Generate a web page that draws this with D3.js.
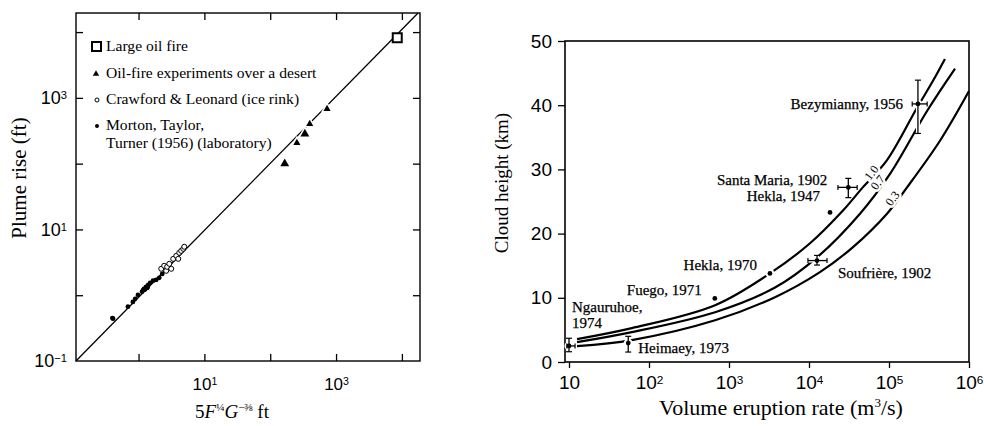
<!DOCTYPE html>
<meta charset="utf-8">
<style>
body { margin: 0; background: #fff; }
svg { font-family: "Liberation Serif", "DejaVu Serif", serif; }
.frame { fill: none; stroke: #000; stroke-width: 1.4px; }
.axis path { display: none; }
.axis line { stroke: #000; stroke-width: 1.3px; }
.axis text { fill: #000; }
.curve { fill: none; stroke: #000; stroke-width: 2.2px; }
.halo { fill: none; stroke: #fff; stroke-linejoin: round; }
.lbl { font-size: 15px; fill: #000; stroke: #000; stroke-width: 0.25px; }
</style>
<svg width="984" height="426"></svg>
<script src="https://d3js.org/d3.v7.min.js"></script>
<script>

// ---- left panel: plume rise vs 5 F^1/4 G^-3/8 ----
var oilFireX = [8500], oilFireY = [8200];
var desertX = [166, 254, 336, 398, 730];
var desertY = [100, 207, 284, 403, 681];
var iceX = [2.21, 2.45, 2.63, 2.72, 2.93, 3.14, 3.36, 3.74, 4.01, 4.15, 4.45, 4.78, 4.95];
var iceY = [2.52, 2.80, 2.35, 2.70, 3.00, 2.52, 3.57, 3.97, 3.57, 4.41, 4.73, 5.07, 5.45];
var labX = [0.40, 0.41, 0.69, 0.82, 0.89, 0.98, 1.13, 1.18, 1.21, 1.25, 1.30, 1.35, 1.38, 1.40, 1.50, 1.66, 1.85, 2.06, 2.29];
var labY = [0.45, 0.44, 0.67, 0.79, 0.88, 1.01, 1.13, 1.20, 1.25, 1.22, 1.34, 1.29, 1.33, 1.44, 1.54, 1.66, 1.71, 1.84, 2.11];
var fitX = [0.112, 17600], fitY = [0.1, 19500];
var leftXTicks = [1, 10, 100, 1000, 10000], leftXLabels = [10, 1000];
var leftYTicks = [0.1, 1, 10, 100, 1000, 10000], leftYLabels = [0.1, 10, 1000];
var legendText = ["Large oil fire", "Oil-fire experiments over a desert", "Crawford & Leonard (ice rink)", "Morton, Taylor,", "Turner (1956) (laboratory)"];

// ---- right panel: cloud height vs volume eruption rate ----
var volcano = ["Ngauruhoe", "Heimaey, 1973", "Fuego, 1971", "Hekla, 1970", "Soufrière, 1902", "Hekla, 1947", "Santa Maria, 1902", "Bezymianny, 1956"];
var rate =   [10,   55,   665, 3250, 12600, 18300, 31000, 230000];
var height = [2.5,  2.95, 9.9, 13.8, 15.8,  23.3,  27.2,  40.2];
var rateLo = [9.4,  null, null, null, 9700,  null, 23000, 195000];
var rateHi = [11.9, null, null, null, 16800, null, 40000, 300000];
var hLo =    [1.6,  1.55, null, null, 15.1,  null, 25.6,  35.6];
var hHi =    [3.7,  4.0,  null, null, 16.6,  null, 28.6,  43.9];
var curveNames = ["1.0", "0.7", "0.3"];
var curveQ = [
  [12.6, 61, 670, 3250, 10300, 26600, 47000, 94000, 224000, 355000, 500000],
  [12.6, 61, 670, 3760, 12600, 43400, 103000, 299000, 669000],
  [12.6, 61, 670, 3760, 13700, 35500, 94400, 168000, 436000, 1000000]
];
var curveH = [
  [3.57, 5.28, 8.85, 13.8, 18.5, 23.6, 27.2, 31.4, 39.6, 43.8, 47.2],
  [3.1, 4.66, 7.76, 11.6, 16.3, 23.1, 29.3, 39.1, 45.7],
  [2.48, 3.42, 6.5, 10.1, 14.0, 17.9, 23.1, 27.2, 34.5, 42.2]
];
var curveLabelQ = [60000, 72000, 110000], curveLabelH = [29.5, 28.0, 25.5];
var rightXTicks = [10, 100, 1000, 10000, 100000, 1000000];
var rightYTicks = [0, 10, 20, 30, 40, 50];

// label placement, in pixels from each point
var labelDx = [3, 10, -13, -13, 21, -10, -21, -15];
var labelDy = [-34, 10, -3, -3, 17, -11, -2, 5];
var labelAnchor = ["start", "start", "end", "end", "start", "end", "end", "end"];

var svg = d3.select("svg");

function superTen(sel, show, dropOne) {
  sel.each(function(d) {
    var t = d3.select(this).text("");
    if (!show(d)) return;
    var e = Math.round(Math.log10(d));
    t.append("tspan").text("10");
    if (dropOne && e == 1) return;
    t.append("tspan").attr("dy", "-0.45em").attr("font-size", "0.62em")
      .text(e < 0 ? "\u2212" + (-e) : e);
  });
}

// ================= left panel =================
var x1 = d3.scaleLog().domain([Math.pow(10, -0.95), Math.pow(10, 4.275)]).range([76, 420]);
var y1 = d3.scaleLog().domain([0.1, Math.pow(10, 4.29)]).range([361, 13]);
var L = svg.append("g");

L.append("g").attr("class", "axis").attr("transform", "translate(0,361)")
  .call(d3.axisBottom(x1).tickValues(leftXTicks).tickSize(-7).tickPadding(17))
  .selectAll("text").style("font-size", "17px")
  .call(superTen, function(d) { return leftXLabels.indexOf(d) >= 0; }, false);
L.append("g").attr("class", "axis").attr("transform", "translate(0,13)")
  .call(d3.axisTop(x1).tickValues(leftXTicks).tickSize(-7).tickFormat(""));
L.append("g").attr("class", "axis").attr("transform", "translate(76,0)")
  .call(d3.axisLeft(y1).tickValues(leftYTicks.slice(1)).tickSize(-7).tickFormat(""));
L.append("g").attr("class", "axis").attr("transform", "translate(76,0)")
  .call(d3.axisLeft(y1).tickValues(leftYLabels).tickSize(0).tickPadding(9))
  .selectAll("text").style("font-size", "18px")
  .call(superTen, function(d) { return true; }, false);
L.append("g").attr("class", "axis").attr("transform", "translate(420,0)")
  .call(d3.axisRight(y1).tickValues(leftYTicks.slice(1)).tickSize(-7).tickFormat(""));
L.append("rect").attr("class", "frame").attr("x", 76).attr("y", 13).attr("width", 344).attr("height", 348);

L.append("path").attr("fill", "none").attr("stroke", "#000").attr("stroke-width", 1.3)
  .attr("d", d3.line()(fitX.map(function(v, i) { return [x1(v), y1(fitY[i])]; })));

var tri = d3.symbol().type(d3.symbolTriangle);
desertX.forEach(function(v, i) {
  var s = (i == 0 || i == 2) ? 34 : 22;
  L.append("path").attr("d", tri.size(s)())
    .attr("transform", "translate(" + x1(v) + "," + y1(desertY[i]) + ")")
    .attr("fill", "#000").attr("stroke", "#fff").attr("stroke-width", 3).attr("paint-order", "stroke");
});
oilFireX.forEach(function(v, i) {
  L.append("rect").attr("x", x1(v) - 4.5).attr("y", y1(oilFireY[i]) - 4.5)
    .attr("width", 9).attr("height", 9).attr("fill", "#fff").attr("stroke", "#000").attr("stroke-width", 2);
});
labX.forEach(function(v, i) {
  L.append("circle").attr("cx", x1(v)).attr("cy", y1(labY[i])).attr("r", 2.4).attr("fill", "#000");
});
iceX.forEach(function(v, i) {
  L.append("circle").attr("cx", x1(v)).attr("cy", y1(iceY[i])).attr("r", 2.5)
    .attr("fill", "#fff").attr("stroke", "#000").attr("stroke-width", 1);
});

// legend
var lg = L.append("g").style("font-size", "15.6px");
var legY = [51, 78, 104, 130, 148];
legendText.forEach(function(t, i) {
  lg.append("text").attr("x", 106).attr("y", legY[i]).text(t);
});
lg.append("rect").attr("x", 92).attr("y", 42).attr("width", 9).attr("height", 9)
  .attr("fill", "#fff").attr("stroke", "#000").attr("stroke-width", 2);
lg.append("path").attr("d", tri.size(18)()).attr("transform", "translate(96,74)");
lg.append("circle").attr("cx", 97).attr("cy", 100).attr("r", 2).attr("fill", "#fff").attr("stroke", "#000");
lg.append("circle").attr("cx", 97).attr("cy", 126).attr("r", 2).attr("fill", "#000");

L.append("text").attr("transform", "translate(26,178) rotate(-90)").attr("text-anchor", "middle")
  .style("font-size", "21px").text("Plume rise (ft)");
var xt = L.append("text").attr("x", 232).attr("y", 418).attr("text-anchor", "middle").style("font-size", "19px");
xt.append("tspan").text("5");
xt.append("tspan").style("font-style", "italic").text("F");
xt.append("tspan").attr("dy", -7).style("font-size", "11px").text("\u00bc");
xt.append("tspan").attr("dy", 7).style("font-style", "italic").text("G");
xt.append("tspan").attr("dy", -7).style("font-size", "11px").text("\u2212\u215c");
xt.append("tspan").attr("dy", 7).text(" ft");

// ================= right panel =================
var x2 = d3.scaleLog().domain([Math.pow(10, 0.95), 1e6]).range([565, 969]);
var y2 = d3.scaleLinear().domain([0, 50]).range([362, 41]);
var R = svg.append("g");

R.append("g").attr("class", "axis").attr("transform", "translate(0,362)")
  .call(d3.axisBottom(x2).tickValues(rightXTicks).tickSize(6).tickPadding(8))
  .selectAll("text").style("font-size", "19px")
  .call(superTen, function() { return true; }, true);
R.append("g").attr("class", "axis").attr("transform", "translate(565,0)")
  .call(d3.axisLeft(y2).tickValues(rightYTicks).tickSize(7).tickPadding(6))
  .selectAll("text").style("font-size", "19px");
R.append("rect").attr("class", "frame").attr("x", 565).attr("y", 41).attr("width", 404).attr("height", 321)
  .style("stroke-width", "1.6px");

var line2 = d3.line().curve(d3.curveCatmullRom)
  .x(function(d) { return x2(d[0]); }).y(function(d) { return y2(d[1]); });
curveQ.forEach(function(qs, k) {
  R.append("path").attr("class", "curve")
    .attr("d", line2(qs.map(function(q, i) { return [q, curveH[k][i]]; })));
});

// curve labels with white halo to break the line
curveNames.forEach(function(n, k) {
  R.append("text").attr("transform", "translate(" + x2(curveLabelQ[k]) + "," + y2(curveLabelH[k]) + ") rotate(-52)")
    .attr("text-anchor", "middle").attr("dy", "0.35em").style("font-size", "12px")
    .attr("stroke", "#fff").attr("stroke-width", 5).attr("paint-order", "stroke").attr("fill", "#000")
    .text(n);
});

// error bars and points
rate.forEach(function(q, i) {
  var cx = x2(q), cy = y2(height[i]);
  var g = R.append("g");
  var segs = [];
  if (hLo[i] != null) segs.push([[cx, y2(hLo[i])], [cx, y2(hHi[i])]]);
  if (rateLo[i] != null) segs.push([[x2(rateLo[i]), cy], [x2(rateHi[i]), cy]]);
  segs.forEach(function(s) {
    g.append("path").attr("class", "halo").attr("stroke-width", 4).attr("d", d3.line()(s));
  });
  g.append("circle").attr("cx", cx).attr("cy", cy).attr("r", 4.5).attr("fill", "#fff");
  segs.forEach(function(s) {
    g.append("path").attr("fill", "none").attr("stroke", "#000").attr("stroke-width", 1.3).attr("d", d3.line()(s));
    var vert = s[0][0] == s[1][0];
    s.forEach(function(p) {
      g.append("path").attr("stroke", "#000").attr("stroke-width", 1.2)
        .attr("d", vert ? d3.line()([[p[0] - 3, p[1]], [p[0] + 3, p[1]]]) : d3.line()([[p[0], p[1] - 2.5], [p[0], p[1] + 2.5]]));
    });
  });
  g.append("circle").attr("cx", cx).attr("cy", cy).attr("r", 2.4).attr("fill", "#000");

  R.append("text").attr("class", "lbl").attr("x", cx + labelDx[i]).attr("y", cy + labelDy[i])
    .attr("text-anchor", labelAnchor[i]).text(volcano[i] + (i == 0 ? "," : ""));
  if (i == 0) {
    R.append("text").attr("class", "lbl").attr("x", cx + labelDx[i]).attr("y", cy + labelDy[i] + 16).text("1974");
  }
});

R.append("text").attr("transform", "translate(508,183) rotate(-90)").attr("text-anchor", "middle")
  .style("font-size", "19px").text("Cloud height (km)");
var xt2 = R.append("text").attr("x", 781).attr("y", 415).attr("text-anchor", "middle").style("font-size", "22px");
xt2.append("tspan").text("Volume eruption rate (m");
xt2.append("tspan").attr("dy", -8).style("font-size", "13px").text("3");
xt2.append("tspan").attr("dy", 8).text("/s)");

</script>
